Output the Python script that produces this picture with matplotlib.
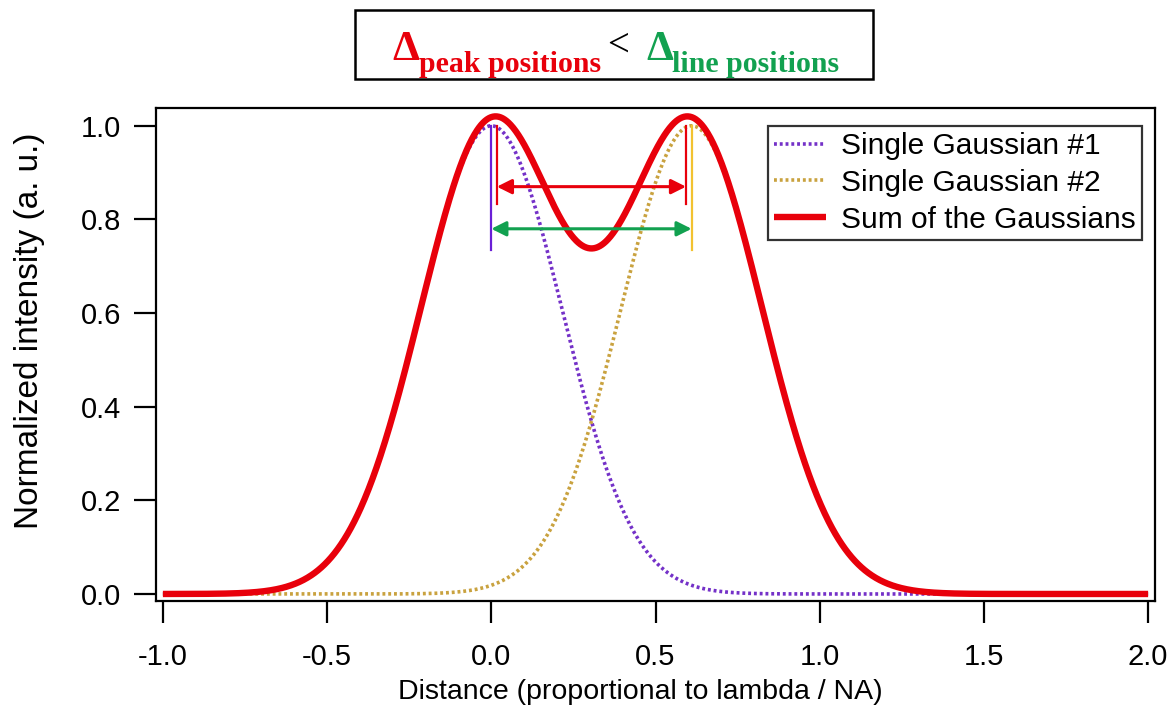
import numpy as np
import matplotlib
matplotlib.use("Agg")
import matplotlib.pyplot as plt
from matplotlib.patches import Rectangle

# values
centers = [0.0, 0.61]          # line positions of the two Gaussians
sigma = 0.216                  # common width
peak_pos = [0.017, 0.593]      # maxima of the summed curve
x_range = (-1.0, 2.0)
xticks = [-1.0, -0.5, 0.0, 0.5, 1.0, 1.5, 2.0]
yticks = [0.0, 0.2, 0.4, 0.6, 0.8, 1.0]
labels = ['Single Gaussian #1', 'Single Gaussian #2', 'Sum of the Gaussians']
red_arrow_y = 0.87
green_arrow_y = 0.78
line_marks = (0.735, 1.0)
peak_marks = (0.833, 1.0)

x = np.linspace(x_range[0], x_range[1], 1500)
g1 = np.exp(-(x - centers[0])**2 / (2 * sigma**2))
g2 = np.exp(-(x - centers[1])**2 / (2 * sigma**2))
total = g1 + g2

plt.rcParams['font.family'] = ['Liberation Sans', 'DejaVu Sans']

W, H = 1176, 711
fig = plt.figure(figsize=(W / 100, H / 100), dpi=100)
ax = fig.add_axes([156 / W, 1 - 601 / H, (1155 - 156) / W, (601 - 108) / H])

purple = '#7431C8'
gold = '#C9A23F'
red = '#E8000B'
green = '#12A150'

ax.plot(x, g1, color=purple, lw=2.6, linestyle=(0, (0.8, 0.8)), label=labels[0])
ax.plot(x, g2, color=gold, lw=2.6, linestyle=(0, (0.8, 0.8)), label=labels[1])
ax.plot(x, total, color=red, lw=4.6, label=labels[2], solid_capstyle='butt')

# vertical markers
ax.plot([centers[0]] * 2, line_marks, color='#6A1FD6', lw=1.6)
ax.plot([centers[1]] * 2, line_marks, color='#F2C230', lw=1.6)
for p in peak_pos:
    ax.plot([p, p], peak_marks, color=red, lw=1.6)

# double arrows
ax.annotate('', xy=(peak_pos[0], red_arrow_y), xytext=(peak_pos[1], red_arrow_y),
            arrowprops=dict(arrowstyle='<|-|>', color=red, lw=2.2,
                            mutation_scale=22, shrinkA=0, shrinkB=0))
ax.annotate('', xy=(centers[0], green_arrow_y), xytext=(centers[1], green_arrow_y),
            arrowprops=dict(arrowstyle='<|-|>', color=green, lw=2.2,
                            mutation_scale=22, shrinkA=0, shrinkB=0))

ax.set_xlim(-1.021, 2.021)
ax.set_ylim(-0.015, 1.038)
ax.set_xticks(xticks)
ax.set_yticks(yticks)
ax.set_xticklabels([f'{t:.1f}' for t in xticks])
ax.set_yticklabels([f'{t:.1f}' for t in yticks])
ax.tick_params(direction='out', length=16, width=1.6, labelsize=21, color='black')
ax.tick_params(axis='y', pad=9)
ax.tick_params(axis='x', pad=14)
for s in ax.spines.values():
    s.set_linewidth(1.6)

ax.set_xlabel('Distance (proportional to lambda / NA)', fontsize=20.5, labelpad=0)
ax.xaxis.set_label_coords(0.4845, -0.158)
ax.set_ylabel('Normalized intensity (a. u.)', fontsize=24, labelpad=26)
ax.yaxis.label.set_y(0.548)

leg = ax.legend(loc='upper right', bbox_to_anchor=(0.987, 0.9635), borderaxespad=0,
                fontsize=21.5, frameon=True, fancybox=False, handlelength=1.75,
                labelspacing=0.3, handletextpad=0.5, borderpad=0.2)
leg.get_frame().set_edgecolor('black')
leg.get_frame().set_linewidth(1.6)

# boxed heading
def fx(px):
    return px / W

def fy(py):
    return 1 - py / H

fig.patches.append(Rectangle((fx(355), fy(79)), fx(873) - fx(355), fy(10) - fy(79),
                             transform=fig.transFigure, fill=False,
                             edgecolor='black', lw=1.8))
serif = ['Liberation Serif', 'DejaVu Serif']
fig.text(fx(392), fy(60), '\u0394', color=red, fontsize=31, fontweight='bold',
         family=serif, va='baseline', ha='left')
fig.text(fx(419), fy(72), 'peak positions', color=red, fontsize=21.5, fontweight='bold',
         family=serif, va='baseline', ha='left')
fig.text(fx(607), fy(56), '<', color='black', fontsize=28,
         family=serif, va='baseline', ha='left')
fig.text(fx(646), fy(60), '\u0394', color=green, fontsize=31, fontweight='bold',
         family=serif, va='baseline', ha='left')
fig.text(fx(672), fy(72), 'line positions', color=green, fontsize=21.5, fontweight='bold',
         family=serif, va='baseline', ha='left')

fig.savefig('out.png', dpi=100)
